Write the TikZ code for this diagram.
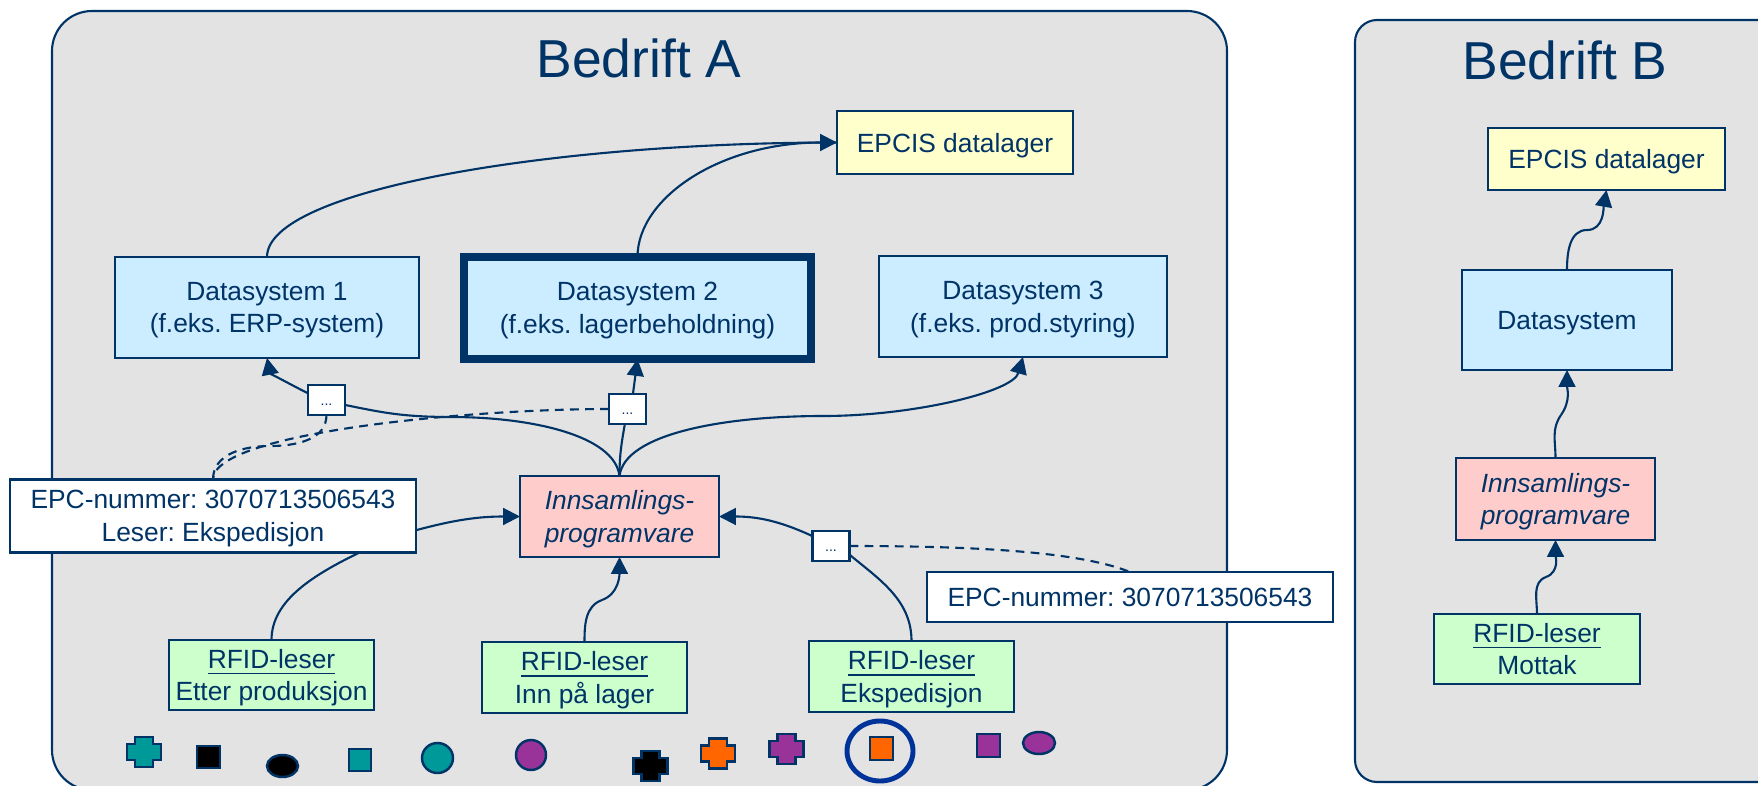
\documentclass[tikz,border=0pt]{standalone}
\usepackage{fontspec}
\setmainfont{Liberation Sans}
\usetikzlibrary{arrows.meta}

\definecolor{inkblue}{HTML}{003366}
\definecolor{ringblue}{HTML}{003399}
\definecolor{panelgray}{HTML}{E3E3E3}
\definecolor{dsblue}{HTML}{CCECFF}
\definecolor{storeyellow}{HTML}{FFFFCC}
\definecolor{swpink}{HTML}{FFCCCC}
\definecolor{readergreen}{HTML}{CCFFCC}
\definecolor{tagteal}{HTML}{009999}
\definecolor{tagpurple}{HTML}{993399}
\definecolor{tagorange}{HTML}{FF6600}

\tikzset{
  panel/.style={draw=inkblue,fill=panelgray,line width=0.6pt},
  title/.style={text=inkblue,font=\fontsize{15.2}{18}\selectfont},
  box/.style={draw=inkblue,line width=0.6pt,text=inkblue,align=center,inner sep=0pt,outer sep=0pt,text depth=0pt,
    font=\fontsize{7.5}{9.3}\selectfont},
  store/.style={box,fill=storeyellow},
  datasys/.style={box,fill=dsblue},
  software/.style={box,fill=swpink,font=\fontsize{7.5}{9.3}\selectfont\itshape},
  reader/.style={box,fill=readergreen},
  event/.style={box,fill=white},
  dots/.style={box,fill=white,text depth=0.5pt,font=\fontsize{4}{5}\selectfont,minimum width=0.37cm,minimum height=0.30cm},
  link/.style={draw=inkblue,line width=0.6pt},
  arrow/.style={link,-{Triangle[length=4.8pt,width=4.8pt]}},
  dashlink/.style={link,dash pattern=on 2.5pt off 1.8pt},
  tag/.style={draw=inkblue,line width=0.7pt},
}

\newcommand{\tagplus}[3]{\draw[tag,fill=#3] (#1-0.09,#2+0.15) -- (#1+0.09,#2+0.15) -- (#1+0.09,#2+0.08) -- (#1+0.17,#2+0.08)
  -- (#1+0.17,#2-0.08) -- (#1+0.09,#2-0.08) -- (#1+0.09,#2-0.15) -- (#1-0.09,#2-0.15) -- (#1-0.09,#2-0.08)
  -- (#1-0.17,#2-0.08) -- (#1-0.17,#2+0.08) -- (#1-0.09,#2+0.08) -- cycle;}

\begin{document}
\frenchspacing
\begin{tikzpicture}

\useasboundingbox (0,0) rectangle (17.58,-7.85);
\clip (0,0) rectangle (17.58,-7.85);

% the two companies
\draw[panel,rounded corners=0.4cm] (0.52,-0.11) rectangle (12.27,-7.90);
\draw[panel,rounded corners=0.22cm] (13.55,-0.20) rectangle (18.20,-7.82);
\node[title] (titleA) at (6.39,-0.58) {Bedrift A};
\node[title] (titleB) at (15.65,-0.60) {Bedrift B};

% Bedrift A
\node[store,minimum width=2.36cm,minimum height=0.63cm] (storeA) at (9.55,-1.425) {EPCIS datalager};
\node[datasys,minimum width=3.04cm,minimum height=1.01cm] (ds1) at (2.67,-3.075) {Datasystem 1\\(f.eks. ERP-system)};
\node[datasys,line width=2.2pt,minimum width=3.47cm,minimum height=1.02cm] (ds2) at (6.375,-3.08) {Datasystem 2\\(f.eks. lagerbeholdning)};
\node[datasys,minimum width=2.88cm,minimum height=1.01cm] (ds3) at (10.23,-3.065) {Datasystem 3\\(f.eks. prod.styring)};
\node[software,minimum width=1.99cm,minimum height=0.81cm] (swA) at (6.195,-5.165) {Innsamlings-\\programvare};
\node[reader,minimum width=2.05cm,minimum height=0.70cm] (rfid1) at (2.715,-6.75) {\underline{RFID-leser}\\Etter produksjon};
\node[reader,minimum width=2.05cm,minimum height=0.71cm] (rfid2) at (5.845,-6.775) {\underline{RFID-leser}\\Inn på lager};
\node[reader,minimum width=2.05cm,minimum height=0.71cm] (rfid3) at (9.115,-6.765) {\underline{RFID-leser}\\Ekspedisjon};
\node[event,minimum width=4.06cm,minimum height=0.73cm] (eventL) at (2.13,-5.16) {EPC-nummer: 3070713506543\\Leser: Ekspedisjon};
\node[event,minimum width=4.06cm,minimum height=0.50cm] (eventR) at (11.30,-5.97) {EPC-nummer: 3070713506543};
\node[dots] (dots1) at (3.265,-4.00) {...\strut};
\node[dots] (dots2) at (6.275,-4.09) {...\strut};
\node[dots] (dots3) at (8.31,-5.46) {...\strut};

\coordinate (bend1) at (4.51,-4.17);
\coordinate (bend3) at (8.23,-4.16);
\coordinate (bendDash) at (2.70,-4.46);
\coordinate (bendRfid2) at (6.02,-6.00);

\draw[link] (ds1.north) .. controls +(0,0.67) and +(-2.87,0) .. (storeA.west);
\draw[arrow] (ds2.north) .. controls +(0,0.59) and +(-1.17,0) .. (storeA.west);

\draw[link] (swA.north) .. controls +(-0.05,0.41) and +(0.79,0) .. (bend1) .. controls +(-0.5,0) and +(0.35,-0.07) .. (dots1.-15);
\draw[arrow] (dots1.160) .. controls +(-0.2,0.10) and +(0.03,-0.15) .. (ds1.south);
\draw[link] (swA.north) to[out=90,in=-100] (dots2.260);
\draw[arrow] (dots2.70) -- (ds2.south);
\draw[link] (swA.north) .. controls +(0.05,0.42) and +(-1.0,0) .. (bend3);
\draw[arrow] (bend3) .. controls +(0.9,0) and +(-0.1,-0.35) .. (ds3.south);

\draw[dashlink] (dots2.west) .. controls +(-1.4,0) and +(0,0.47) .. (eventL.north);
\draw[dashlink] (dots1.south) to[out=-90,in=0] (bendDash) to[out=180,in=90] (eventL.north);
\draw[dashlink] (dots3.east) .. controls +(1.3,0) and +(-0.5,0.2) .. (eventR.north);

\draw[link] (rfid1.north) .. controls +(0,0.40) and +(-0.45,-0.22) .. (eventL.-14.4);
\draw[arrow] (eventL.-4) to[out=15,in=180] (swA.west);
\draw[link] (rfid2.north) to[out=90,in=200] (bendRfid2);
\draw[arrow] (bendRfid2) to[out=20,in=-90] (swA.south);
\draw[link] (rfid3.north) .. controls +(0,0.41) and +(0.30,-0.25) .. (dots3.-25);
\draw[arrow] (dots3.152) to[out=155,in=0] (swA.east);

% tags on the line
\tagplus{1.44}{-7.52}{tagteal}
\draw[tag,fill=black] (1.97,-7.46) rectangle (2.20,-7.68);
\draw[tag,fill=black] (2.825,-7.66) ellipse (0.155cm and 0.11cm);
\draw[tag,fill=tagteal] (3.49,-7.49) rectangle (3.71,-7.71);
\draw[tag,fill=tagteal] (4.375,-7.58) ellipse (0.155cm and 0.15cm);
\draw[tag,fill=tagpurple] (5.31,-7.55) ellipse (0.15cm and 0.15cm);
\tagplus{6.505}{-7.66}{black}
\tagplus{7.18}{-7.535}{tagorange}
\tagplus{7.865}{-7.49}{tagpurple}
\draw[tag,fill=tagorange] (8.70,-7.37) rectangle (8.93,-7.60);
\draw[ringblue,line width=1.4pt] (8.80,-7.51) ellipse (0.33cm and 0.30cm);
\draw[tag,fill=tagpurple] (9.77,-7.34) rectangle (10.00,-7.57);
\draw[tag,fill=tagpurple] (10.39,-7.43) ellipse (0.16cm and 0.11cm);

% Bedrift B
\node[store,minimum width=2.37cm,minimum height=0.62cm] (storeB) at (16.065,-1.59) {EPCIS datalager};
\node[datasys,minimum width=2.10cm,minimum height=1.00cm] (dsB) at (15.67,-3.20) {Datasystem};
\node[software,minimum width=1.99cm,minimum height=0.82cm] (swB) at (15.555,-4.99) {Innsamlings-\\programvare};
\node[reader,minimum width=2.06cm,minimum height=0.70cm] (rfidB) at (15.37,-6.49) {\underline{RFID-leser}\\Mottak};

\coordinate (bendB1) at (15.46,-5.77);
\coordinate (bendB2) at (15.61,-4.15);
\coordinate (bendB3) at (15.87,-2.30);

\draw[link] (rfidB.north) to[out=90,in=200] (bendB1);
\draw[arrow] (bendB1) to[out=20,in=-90] (swB.south);
\draw[link] (swB.north) to[out=90,in=-125] (bendB2);
\draw[arrow] (bendB2) to[out=55,in=-90] (dsB.south);
\draw[link] (dsB.north) to[out=90,in=180] (bendB3);
\draw[arrow] (bendB3) to[out=0,in=-100] (storeB.south);

\end{tikzpicture}
\end{document}
